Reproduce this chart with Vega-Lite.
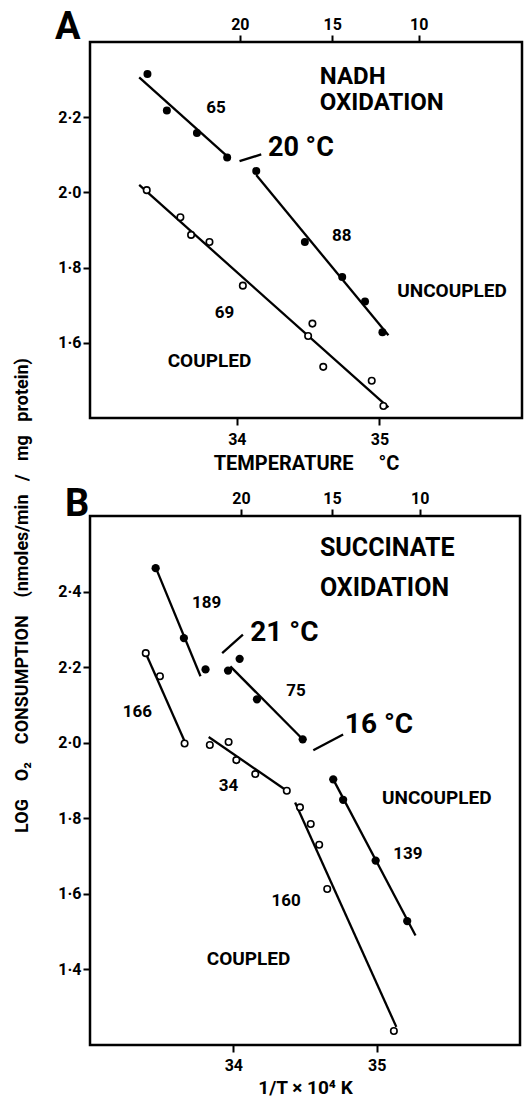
{
  "$schema": "https://vega.github.io/schema/vega-lite/v6.json",
  "background": "white",
  "padding": {"left": 11, "top": 7, "right": 5, "bottom": 5},
  "datasets": {
    "linesA": [
      {"x": 33.315, "y": 2.306, "x2": 33.945, "y2": 2.092},
      {"x": 34.136, "y": 2.046, "x2": 35.063, "y2": 1.62},
      {"x": 33.315, "y": 2.02, "x2": 35.063, "y2": 1.428},
      {"x": 34.019, "y": 2.083, "x2": 34.171, "y2": 2.101}
    ],
    "pointsA": [
      {"x": 33.373, "y": 2.315, "state": "uncoupled"},
      {"x": 33.509, "y": 2.218, "state": "uncoupled"},
      {"x": 33.72, "y": 2.158, "state": "uncoupled"},
      {"x": 33.932, "y": 2.093, "state": "uncoupled"},
      {"x": 34.136, "y": 2.057, "state": "uncoupled"},
      {"x": 34.477, "y": 1.868, "state": "uncoupled"},
      {"x": 34.739, "y": 1.775, "state": "uncoupled"},
      {"x": 34.899, "y": 1.71, "state": "uncoupled"},
      {"x": 35.021, "y": 1.628, "state": "uncoupled"},
      {"x": 33.368, "y": 2.006, "state": "coupled"},
      {"x": 33.604, "y": 1.934, "state": "coupled"},
      {"x": 33.679, "y": 1.887, "state": "coupled"},
      {"x": 33.808, "y": 1.868, "state": "coupled"},
      {"x": 34.042, "y": 1.752, "state": "coupled"},
      {"x": 34.53, "y": 1.651, "state": "coupled"},
      {"x": 34.5, "y": 1.618, "state": "coupled"},
      {"x": 34.606, "y": 1.536, "state": "coupled"},
      {"x": 34.946, "y": 1.499, "state": "coupled"},
      {"x": 35.028, "y": 1.432, "state": "coupled"}
    ],
    "labelsA": [
      {"label": "NADH\nOXIDATION", "x": 34.582, "y": 2.306, "role": "head"},
      {"label": "20 °C", "x": 34.218, "y": 2.117, "role": "temp"},
      {"label": "65", "x": 33.854, "y": 2.224, "role": "slope"},
      {"label": "88", "x": 34.735, "y": 1.883, "role": "slope"},
      {"label": "69", "x": 33.913, "y": 1.68, "role": "slope"},
      {"label": "UNCOUPLED", "x": 35.509, "y": 1.737, "role": "state"},
      {"label": "COUPLED", "x": 33.808, "y": 1.552, "role": "state"}
    ],
    "topA": [{"x": 34.021, "t": 20}, {"x": 34.669, "t": 15}, {"x": 35.275, "t": 10}],
    "linesB": [
      {"x": 33.458, "y": 2.464, "x2": 33.771, "y2": 2.176},
      {"x": 33.979, "y": 2.202, "x2": 34.484, "y2": 2.009},
      {"x": 34.697, "y": 1.903, "x2": 35.271, "y2": 1.49},
      {"x": 33.389, "y": 2.237, "x2": 33.66, "y2": 2.004},
      {"x": 33.828, "y": 2.015, "x2": 34.373, "y2": 1.873},
      {"x": 34.431, "y": 1.842, "x2": 35.137, "y2": 1.248},
      {"x": 33.922, "y": 2.237, "x2": 34.067, "y2": 2.286},
      {"x": 34.558, "y": 1.98, "x2": 34.766, "y2": 2.022}
    ],
    "pointsB": [
      {"x": 33.458, "y": 2.462, "state": "uncoupled"},
      {"x": 33.655, "y": 2.277, "state": "uncoupled"},
      {"x": 33.806, "y": 2.194, "state": "uncoupled"},
      {"x": 33.963, "y": 2.191, "state": "uncoupled"},
      {"x": 34.044, "y": 2.222, "state": "uncoupled"},
      {"x": 34.165, "y": 2.115, "state": "uncoupled"},
      {"x": 34.484, "y": 2.009, "state": "uncoupled"},
      {"x": 34.697, "y": 1.903, "state": "uncoupled"},
      {"x": 34.766, "y": 1.849, "state": "uncoupled"},
      {"x": 34.993, "y": 1.688, "state": "uncoupled"},
      {"x": 35.213, "y": 1.528, "state": "uncoupled"},
      {"x": 33.389, "y": 2.237, "state": "coupled"},
      {"x": 33.488, "y": 2.176, "state": "coupled"},
      {"x": 33.66, "y": 1.998, "state": "coupled"},
      {"x": 33.836, "y": 1.994, "state": "coupled"},
      {"x": 33.967, "y": 2.002, "state": "coupled"},
      {"x": 34.021, "y": 1.954, "state": "coupled"},
      {"x": 34.153, "y": 1.917, "state": "coupled"},
      {"x": 34.373, "y": 1.873, "state": "coupled"},
      {"x": 34.465, "y": 1.829, "state": "coupled"},
      {"x": 34.54, "y": 1.785, "state": "coupled"},
      {"x": 34.599, "y": 1.73, "state": "coupled"},
      {"x": 34.655, "y": 1.613, "state": "coupled"},
      {"x": 35.12, "y": 1.237, "state": "coupled"}
    ],
    "labelsB": [
      {"label": "SUCCINATE\nOXIDATION", "x": 34.604, "y": 2.514, "role": "head"},
      {"label": "21 °C", "x": 34.118, "y": 2.29, "role": "temp"},
      {"label": "16 °C", "x": 34.778, "y": 2.047, "role": "temp"},
      {"label": "189", "x": 33.813, "y": 2.371, "role": "slope"},
      {"label": "75", "x": 34.4375, "y": 2.138, "role": "slope"},
      {"label": "166", "x": 33.331, "y": 2.082, "role": "slope"},
      {"label": "34", "x": 33.967, "y": 1.886, "role": "slope"},
      {"label": "139", "x": 35.217, "y": 1.706, "role": "slope"},
      {"label": "160", "x": 34.368, "y": 1.58, "role": "slope"},
      {"label": "UNCOUPLED", "x": 35.419, "y": 1.853, "role": "state"},
      {"label": "COUPLED", "x": 34.106, "y": 1.428, "role": "state"}
    ],
    "topB": [{"x": 34.053, "t": 20}, {"x": 34.6875, "t": 15}, {"x": 35.3, "t": 10}]
  },
  "bounds": "flush",
  "spacing": 98,
  "vconcat": [
    {
      "title": {"text": "A", "anchor": "start", "frame": "group", "dx": -35, "fontSize": 38, "offset": -31},
      "width": 432,
      "height": 376,
      "layer": [
        {
          "layer": [
            {
              "data": {"name": "linesA"},
              "mark": {"type": "rule", "strokeWidth": 2.3, "color": "black"},
              "encoding": {
                "x": {"field": "x", "type": "quantitative", "scale": {"domain": [32.97, 36.0], "nice": false, "zero": false},
                      "axis": {"orient": "bottom", "values": [34, 35], "format": "d", "title": "TEMPERATURE\u00a0\u00a0\u00a0\u00a0\u00a0°C", "titleFontSize": 20, "titlePadding": 6, "labelPadding": 6}},
                "y": {"field": "y", "type": "quantitative", "scale": {"domain": [1.4, 2.4], "nice": false, "zero": false},
                      "axis": {"values": [1.6, 1.8, 2.0, 2.2], "labelExpr": "replace(format(datum.value, '.1f'), '.', '·')",
                               "title": "LOG\u00a0\u00a0\u00a0\u00a0O₂\u00a0\u00a0\u00a0\u00a0CONSUMPTION\u00a0\u00a0\u00a0\u00a0(nmoles/min\u00a0\u00a0\u00a0/\u00a0\u00a0\u00a0mg\u00a0\u00a0\u00a0protein)", "titleFontSize": 18,
                               "titleX": -68, "titleY": 553, "titleAngle": 270, "titleAlign": "center", "titleBaseline": "middle"}},
                "x2": {"field": "x2"},
                "y2": {"field": "y2"}
              }
            },
            {
              "data": {"name": "pointsA"},
              "transform": [{"filter": "datum.state === 'uncoupled'"}],
              "mark": {"type": "point", "shape": "circle", "filled": true, "color": "black", "size": 64, "opacity": 1},
              "encoding": {"x": {"field": "x", "type": "quantitative"}, "y": {"field": "y", "type": "quantitative"}}
            },
            {
              "data": {"name": "pointsA"},
              "transform": [{"filter": "datum.state === 'coupled'"}],
              "mark": {"type": "point", "shape": "circle", "filled": false, "fill": "white", "fillOpacity": 1, "stroke": "black", "strokeWidth": 1.6, "size": 42, "opacity": 1},
              "encoding": {"x": {"field": "x", "type": "quantitative"}, "y": {"field": "y", "type": "quantitative"}}
            },
            {
              "data": {"name": "labelsA"},
              "transform": [{"filter": "datum.role === 'head'"}],
              "mark": {"type": "text", "align": "left", "baseline": "middle", "fontSize": 24, "lineBreak": "\n", "lineHeight": 26},
              "encoding": {"x": {"field": "x", "type": "quantitative"}, "y": {"field": "y", "type": "quantitative"}, "text": {"field": "label"}}
            },
            {
              "data": {"name": "labelsA"},
              "transform": [{"filter": "datum.role === 'temp'"}],
              "mark": {"type": "text", "align": "left", "baseline": "middle", "fontSize": 27},
              "encoding": {"x": {"field": "x", "type": "quantitative"}, "y": {"field": "y", "type": "quantitative"}, "text": {"field": "label"}}
            },
            {
              "data": {"name": "labelsA"},
              "transform": [{"filter": "datum.role === 'slope'"}],
              "mark": {"type": "text", "align": "center", "baseline": "middle", "fontSize": 17},
              "encoding": {"x": {"field": "x", "type": "quantitative"}, "y": {"field": "y", "type": "quantitative"}, "text": {"field": "label"}}
            },
            {
              "data": {"name": "labelsA"},
              "transform": [{"filter": "datum.role === 'state'"}],
              "mark": {"type": "text", "align": "center", "baseline": "middle", "fontSize": 19},
              "encoding": {"x": {"field": "x", "type": "quantitative"}, "y": {"field": "y", "type": "quantitative"}, "text": {"field": "label"}}
            }
          ]
        },
        {
          "data": {"name": "topA"},
          "mark": {"type": "point", "opacity": 0},
          "encoding": {
            "x": {"field": "x", "type": "quantitative", "scale": {"domain": [32.97, 36.0], "nice": false, "zero": false},
                  "axis": {"orient": "top", "values": [34.021, 34.669, 35.275], "title": null, "labelPadding": 3,
                           "labelExpr": "datum.value < 34.3 ? '20' : datum.value < 35 ? '15' : '10'"}}
          }
        }
      ],
      "resolve": {"axis": {"x": "independent"}}
    },
    {
      "title": {"text": "B", "anchor": "start", "frame": "group", "dx": -25, "fontSize": 38, "offset": -34},
      "width": 430,
      "height": 529,
      "layer": [
        {
          "layer": [
            {
              "data": {"name": "linesB"},
              "mark": {"type": "rule", "strokeWidth": 2.3, "color": "black"},
              "encoding": {
                "x": {"field": "x", "type": "quantitative", "scale": {"domain": [33.0, 36.0], "nice": false, "zero": false},
                      "axis": {"orient": "bottom", "values": [34, 35], "format": "d", "title": "1/T × 10⁴ K", "titleFontSize": 19, "titlePadding": 5, "labelPadding": 5}},
                "y": {"field": "y", "type": "quantitative", "scale": {"domain": [1.2, 2.6], "nice": false, "zero": false},
                      "axis": {"values": [1.4, 1.6, 1.8, 2.0, 2.2, 2.4], "labelExpr": "replace(format(datum.value, '.1f'), '.', '·')", "title": null}},
                "x2": {"field": "x2"},
                "y2": {"field": "y2"}
              }
            },
            {
              "data": {"name": "pointsB"},
              "transform": [{"filter": "datum.state === 'uncoupled'"}],
              "mark": {"type": "point", "shape": "circle", "filled": true, "color": "black", "size": 68, "opacity": 1},
              "encoding": {"x": {"field": "x", "type": "quantitative"}, "y": {"field": "y", "type": "quantitative"}}
            },
            {
              "data": {"name": "pointsB"},
              "transform": [{"filter": "datum.state === 'coupled'"}],
              "mark": {"type": "point", "shape": "circle", "filled": false, "fill": "white", "fillOpacity": 1, "stroke": "black", "strokeWidth": 1.6, "size": 42, "opacity": 1},
              "encoding": {"x": {"field": "x", "type": "quantitative"}, "y": {"field": "y", "type": "quantitative"}}
            },
            {
              "data": {"name": "labelsB"},
              "transform": [{"filter": "datum.role === 'head'"}],
              "mark": {"type": "text", "align": "left", "baseline": "middle", "fontSize": 25, "lineBreak": "\n", "lineHeight": 40},
              "encoding": {"x": {"field": "x", "type": "quantitative"}, "y": {"field": "y", "type": "quantitative"}, "text": {"field": "label"}}
            },
            {
              "data": {"name": "labelsB"},
              "transform": [{"filter": "datum.role === 'temp'"}],
              "mark": {"type": "text", "align": "left", "baseline": "middle", "fontSize": 28},
              "encoding": {"x": {"field": "x", "type": "quantitative"}, "y": {"field": "y", "type": "quantitative"}, "text": {"field": "label"}}
            },
            {
              "data": {"name": "labelsB"},
              "transform": [{"filter": "datum.role === 'slope'"}],
              "mark": {"type": "text", "align": "center", "baseline": "middle", "fontSize": 17},
              "encoding": {"x": {"field": "x", "type": "quantitative"}, "y": {"field": "y", "type": "quantitative"}, "text": {"field": "label"}}
            },
            {
              "data": {"name": "labelsB"},
              "transform": [{"filter": "datum.role === 'state'"}],
              "mark": {"type": "text", "align": "center", "baseline": "middle", "fontSize": 19},
              "encoding": {"x": {"field": "x", "type": "quantitative"}, "y": {"field": "y", "type": "quantitative"}, "text": {"field": "label"}}
            }
          ]
        },
        {
          "data": {"name": "topB"},
          "mark": {"type": "point", "opacity": 0},
          "encoding": {
            "x": {"field": "x", "type": "quantitative", "scale": {"domain": [33.0, 36.0], "nice": false, "zero": false},
                  "axis": {"orient": "top", "values": [34.053, 34.6875, 35.3], "title": null, "labelPadding": 3,
                           "labelExpr": "datum.value < 34.3 ? '20' : datum.value < 35 ? '15' : '10'"}}
          }
        }
      ],
      "resolve": {"axis": {"x": "independent"}}
    }
  ],
  "config": {
    "font": "Roboto",
    "view": {"stroke": "black", "strokeWidth": 2.5, "fill": "white"},
    "axis": {
      "domain": false, "grid": false, "ticks": true, "tickColor": "black", "tickWidth": 2, "tickSize": 7,
      "labelFont": "Roboto", "labelFontSize": 16, "labelFontWeight": "bold", "labelColor": "black",
      "titleFont": "Roboto", "titleFontWeight": "bold", "titleColor": "black"
    },
    "text": {"font": "Roboto", "fontWeight": "bold", "color": "black"},
    "title": {"font": "Roboto", "fontWeight": "bold", "color": "black"}
  }
}
